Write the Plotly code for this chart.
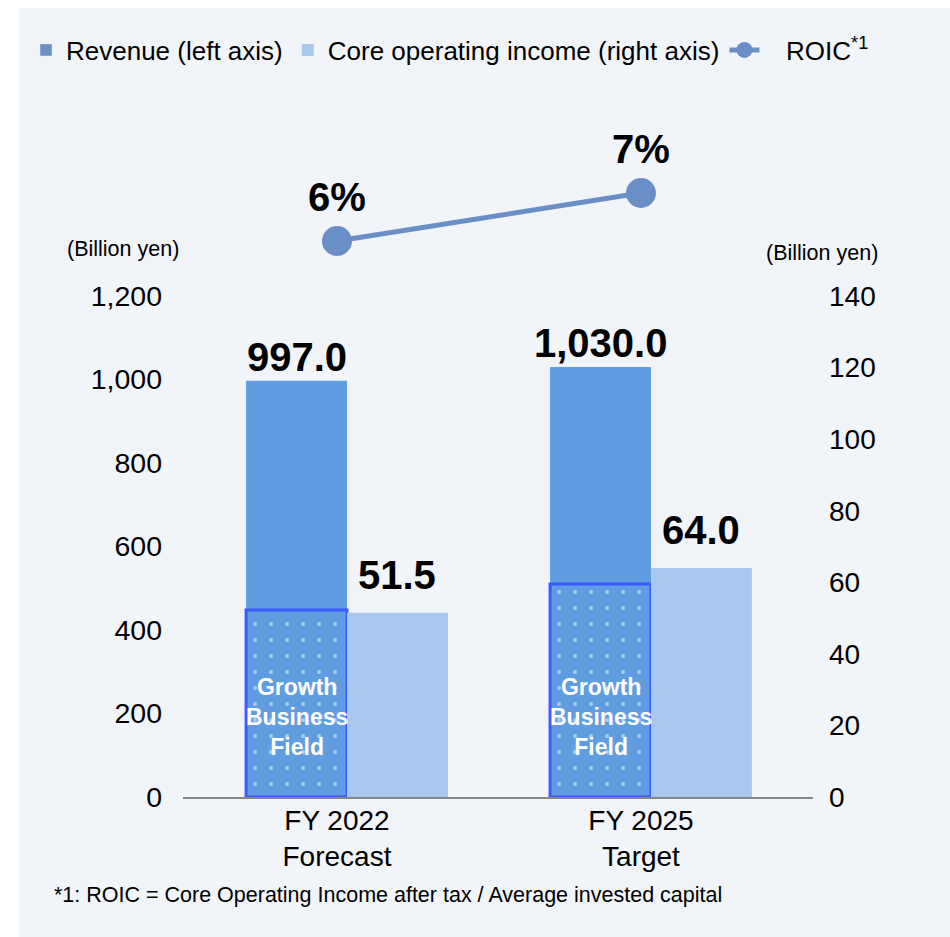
import plotly.graph_objects as go

# Data (billion yen / %)
categories = ["FY 2022<br>Forecast", "FY 2025<br>Target"]
revenue = [997.0, 1030.0]
growth_field = [448, 510]
core_op_income = [51.5, 64.0]
roic = [6, 7]

left_ticks = [0, 200, 400, 600, 800, 1000, 1200]
right_ticks = [0, 20, 40, 60, 80, 100, 120, 140]

FONT = "Arial, Liberation Sans, sans-serif"
REV_COLOR = "#5f9ce0"
REV_LEGEND = "#6b8ec4"
COI_COLOR = "#a9c8ee"
ROIC_COLOR = "#6a8fc6"
EDGE_BLUE = "#3d5afe"
PANEL = "#f1f4f9"

W, H = 950, 937
ML, MR, MT, MB = 183, 0, 100, 140
GW, GH = W - ML - MR, H - MT - MB
AXIS_W = 630          # width of the bar axes inside the plotting region


def px_x(px):
    """Pixel column -> paper x."""
    return (px - ML) / GW


def px_y(py):
    """Pixel row -> paper y."""
    return (H - MB - py) / GH


x = list(range(len(categories)))
BAR_W = 0.332
REV_OFF = -0.299
COI_OFF = 0.033

fig = go.Figure()

# Revenue (left axis)
fig.add_trace(go.Bar(
    x=x, y=revenue, width=BAR_W, offset=REV_OFF,
    marker=dict(color=REV_COLOR, line=dict(width=0)),
    yaxis="y", showlegend=False, hoverinfo="skip",
))
# Growth business field portion of revenue
fig.add_trace(go.Bar(
    x=x, y=growth_field, width=BAR_W, offset=REV_OFF,
    marker=dict(color=REV_COLOR, line=dict(color=EDGE_BLUE, width=3),
                pattern=dict(shape=".", fgcolor="white", bgcolor=REV_COLOR,
                             size=16, solidity=0.05)),
    yaxis="y", showlegend=False, hoverinfo="skip",
))
# Legend entry for revenue
fig.add_trace(go.Bar(
    x=[None], y=[None], name="Revenue (left axis)",
    marker=dict(color=REV_LEGEND), yaxis="y",
))
# Core operating income (right axis)
fig.add_trace(go.Bar(
    x=x, y=core_op_income, width=BAR_W, offset=COI_OFF,
    name="Core operating income (right axis)",
    marker=dict(color=COI_COLOR, line=dict(width=0)),
    yaxis="y2", hoverinfo="skip",
))
# ROIC
fig.add_trace(go.Scatter(
    x=x, y=roic, name="\u00a0\u00a0\u00a0ROIC<sup>*1</sup>", yaxis="y3",
    mode="lines+markers+text",
    line=dict(color=ROIC_COLOR, width=5),
    marker=dict(color=ROIC_COLOR, size=30),
    text=[f"{v}%" for v in roic], textposition="top center",
    textfont=dict(family=FONT, size=40, color="black", weight="bold"),
    hoverinfo="skip",
))

annotations = []
# Value labels above the bars and the growth-field caption
for i in x:
    annotations.append(dict(
        x=i + REV_OFF + BAR_W / 2, y=revenue[i], xref="x", yref="y",
        text=f"<b>{revenue[i]:,.1f}</b>", showarrow=False,
        yanchor="bottom", yshift=0,
        font=dict(family=FONT, size=40, color="black"),
    ))
    annotations.append(dict(
        x=i + COI_OFF + BAR_W / 2, y=core_op_income[i], xref="x", yref="y2",
        text=f"<b>{core_op_income[i]:.1f}</b>", showarrow=False,
        yanchor="bottom", yshift=14,
        font=dict(family=FONT, size=40, color="black"),
    ))
    annotations.append(dict(
        x=i + REV_OFF + BAR_W / 2, y=0, xref="x", yref="y",
        text="<b>Growth<br>Business<br>Field</b>", showarrow=False,
        yanchor="middle", yshift=80,
        font=dict(family=FONT, size=23, color="white"),
    ))

# Unit labels and footnote
annotations += [
    dict(x=px_x(123), y=px_y(249), xref="paper", yref="paper",
         text="(Billion yen)", showarrow=False,
         xanchor="center", yanchor="middle",
         font=dict(family=FONT, size=21.5, color="black")),
    dict(x=px_x(822), y=px_y(253), xref="paper", yref="paper",
         text="(Billion yen)", showarrow=False,
         xanchor="center", yanchor="middle",
         font=dict(family=FONT, size=21.5, color="black")),
    dict(x=px_x(52), y=px_y(895), xref="paper", yref="paper",
         text="*1: ROIC = Core Operating Income after tax / Average invested capital",
         showarrow=False, xanchor="left", yanchor="middle",
         font=dict(family=FONT, size=21.5, color="black")),
]

fig.update_layout(
    width=W, height=H,
    margin=dict(l=ML, r=MR, t=MT, b=MB),
    paper_bgcolor="white", plot_bgcolor="rgba(0,0,0,0)",
    font=dict(family=FONT, color="black"),
    barmode="overlay",
    xaxis=dict(
        domain=[0, AXIS_W / GW],
        range=[-0.5066, 1.566], tickvals=x, ticktext=categories,
        showline=True, linecolor="#858585", linewidth=2,
        showgrid=False, zeroline=False, ticks="",
        tickfont=dict(family=FONT, size=28, color="black"),
        ticklabelstandoff=-3,
    ),
    yaxis=dict(
        domain=[0, px_y(296)], range=[0, 1200], tickvals=left_ticks,
        tickformat=",d", showgrid=False, zeroline=False, showline=False,
        tickfont=dict(family=FONT, size=28.5, color="black"),
        ticklabelstandoff=20,
    ),
    yaxis2=dict(
        domain=[0, px_y(296)], range=[0, 140], tickvals=right_ticks,
        overlaying="y", side="right", anchor="x",
        showgrid=False, zeroline=False, showline=False,
        tickfont=dict(family=FONT, size=28, color="black"),
        ticklabelstandoff=15,
    ),
    yaxis3=dict(
        domain=[px_y(274), 1], range=[5.3125, 8.9375], anchor="x",
        visible=False,
    ),
    legend=dict(
        orientation="h", xref="paper", yref="paper",
        x=px_x(26), y=px_y(50), xanchor="left", yanchor="middle",
        bgcolor="rgba(0,0,0,0)",
        font=dict(family=FONT, size=26, color="black"),
        traceorder="normal",
    ),
    annotations=annotations,
    shapes=[dict(
        type="rect", xref="paper", yref="paper", layer="below",
        x0=px_x(19), x1=px_x(W), y0=px_y(H), y1=px_y(8),
        fillcolor=PANEL, line=dict(width=0),
    )],
)

fig.write_html("out.html")
